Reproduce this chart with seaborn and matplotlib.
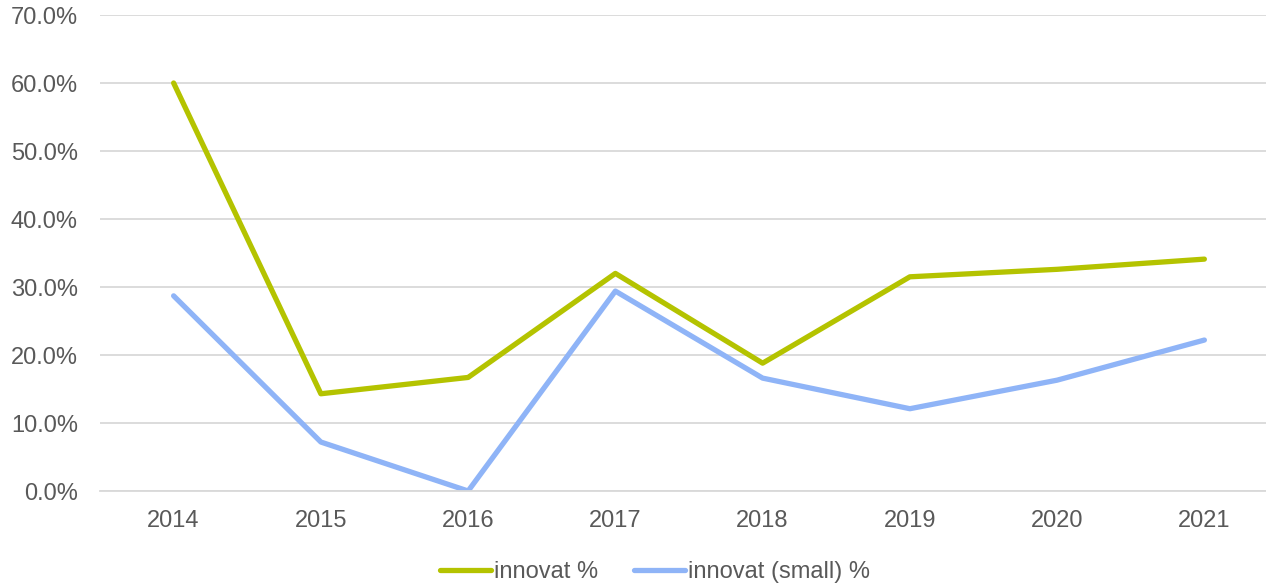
import matplotlib
matplotlib.use("Agg")
import matplotlib.pyplot as plt
import matplotlib.ticker as mticker
import seaborn as sns
import pandas as pd

years = ["2014", "2015", "2016", "2017", "2018", "2019", "2020", "2021"]
innovat = [60.0, 14.3, 16.7, 32.0, 18.8, 31.5, 32.6, 34.1]
innovat_small = [28.7, 7.2, 0.0, 29.4, 16.6, 12.1, 16.3, 22.2]

series_names = ["innovat %", "innovat (small) %"]
colors = ["#B4C300", "#8FB4F7"]

df = pd.DataFrame({
    "year": years * 2,
    "value": innovat + innovat_small,
    "series": [series_names[0]] * len(years) + [series_names[1]] * len(years),
})

sns.set_theme(style="white")
plt.rcParams["font.family"] = ["Liberation Sans", "DejaVu Sans"]

W, H = 1266, 586
fig = plt.figure(figsize=(W / 100, H / 100), dpi=100)
# plot area runs past the right edge of the canvas
ax = fig.add_axes([100 / W, 1 - 491 / H, 1178 / W, 476 / H])

sns.lineplot(data=df, x="year", y="value", hue="series", palette=colors,
             linewidth=3.8, ax=ax, sort=False, legend=True,
             solid_capstyle="round")

ax.set_xlim(-0.5, len(years) - 0.5)
ax.set_ylim(0, 70)
ax.set_yticks(range(0, 71, 10))
ax.yaxis.set_major_formatter(mticker.FuncFormatter(lambda v, p: f"{v:.1f}%"))
ax.grid(axis="y", color="#D9D9D9", linewidth=1.3)
ax.set_axisbelow(True)
for side in ["left", "right", "top"]:
    ax.spines[side].set_visible(False)
ax.spines["bottom"].set_color("#D9D9D9")
ax.spines["bottom"].set_linewidth(1.3)
ax.tick_params(axis="both", colors="#595959", labelsize=17, length=0)
ax.tick_params(axis="x", pad=14)
ax.tick_params(axis="y", pad=16)
ax.set_xlabel("")
ax.set_ylabel("")

handles, labels = ax.get_legend_handles_labels()
ax.legend_.remove()
leg = fig.legend(handles, labels, loc="center", bbox_to_anchor=(655 / W, 1 - 572 / H),
                 ncol=2, frameon=False, fontsize=17, handlelength=2.15,
                 handletextpad=0.15, columnspacing=1.5, labelcolor="#595959",
                 borderpad=0)
for line in leg.get_lines():
    line.set_linewidth(3.8)
    line.set_solid_capstyle("round")

fig.savefig("out.png", dpi=100)
